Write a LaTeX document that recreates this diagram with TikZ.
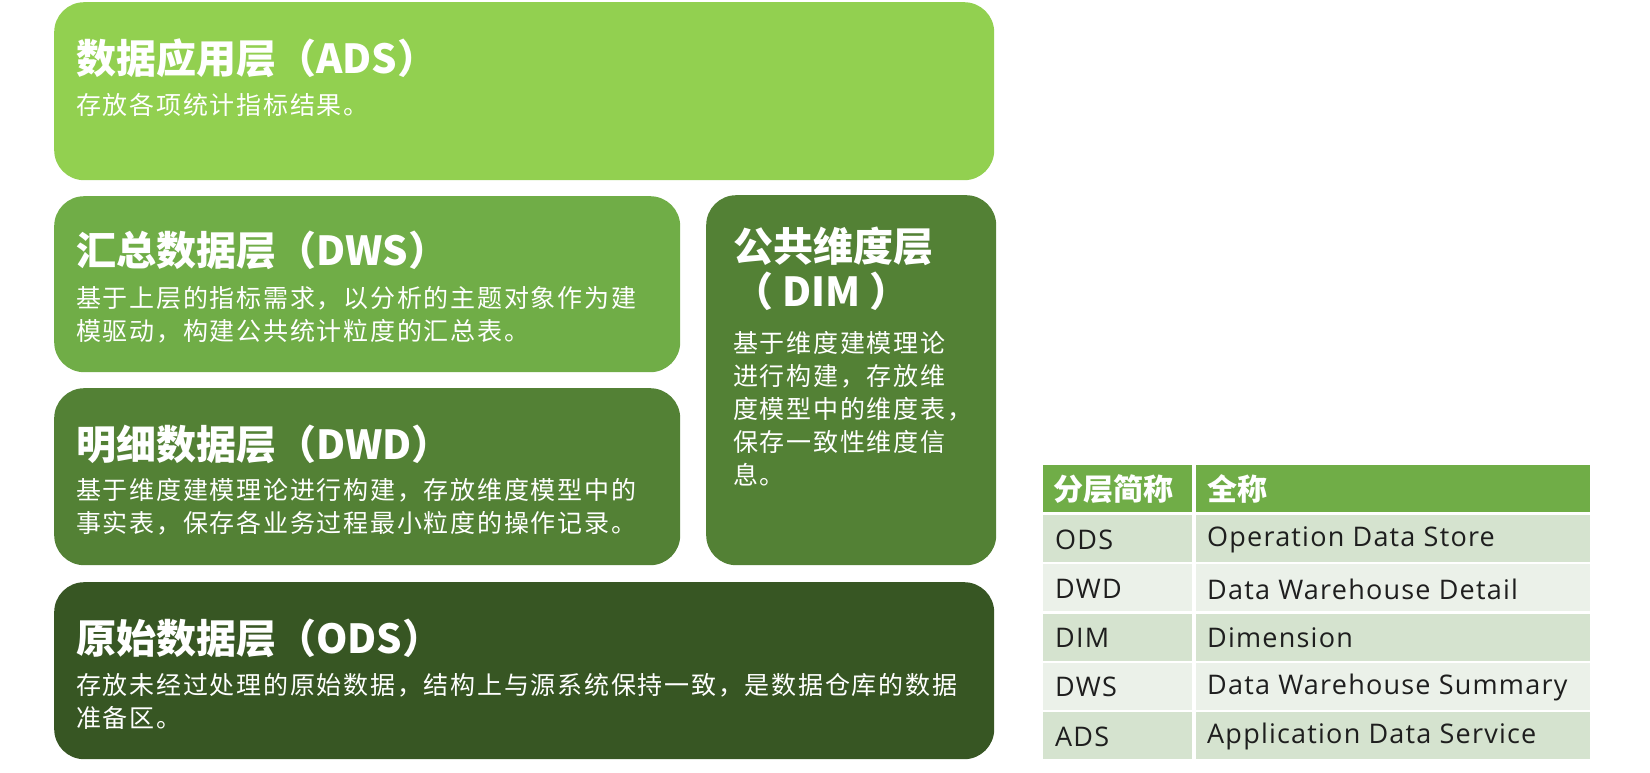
\documentclass[tikz,border=0pt]{standalone}
\usepackage{fontspec}
\setmainfont{Noto Sans CJK SC}
\newfontfamily\latinfont[LetterSpace=4.5]{Open Sans}
\usetikzlibrary{positioning}
\definecolor{cADS}{HTML}{92D050}
\definecolor{cDWS}{HTML}{70AD47}
\definecolor{cDWD}{HTML}{538135}
\definecolor{cDIM}{HTML}{538135}
\definecolor{cODS}{HTML}{375623}
\definecolor{cHead}{HTML}{70AD47}
\definecolor{cRowA}{HTML}{D5E3CF}
\definecolor{cRowB}{HTML}{EBF1E9}
\definecolor{cTxt}{HTML}{1E1E1E}
\tikzset{
  layer/.style={anchor=north west, inner sep=0pt, rounded corners=30pt, draw=none},
  ttl/.style={anchor=west, inner sep=0pt, text=white, font=\fontsize{40}{46}\selectfont\bfseries},
  body/.style={anchor=north west, inner sep=0pt, text=white, align=left, font=\fontsize{25}{33}\selectfont\addfontfeatures{LetterSpace=7}},
  cell/.style={anchor=north west, inner sep=0pt, minimum height=47pt},
  ctxt/.style={anchor=west, inner sep=0pt, text=cTxt, font=\fontsize{27}{30}\selectfont\latinfont},
  htxt/.style={anchor=west, inner sep=0pt, text=white, font=\fontsize{30}{34}\selectfont\bfseries},
}
\begin{document}
\begin{tikzpicture}[x=1pt,y=-1pt]
\useasboundingbox (0,0) rectangle (1650,772);
% layers
\node[layer, fill=cADS, minimum width=940pt, minimum height=178pt] (ads) at (54,2) {};
\node[layer, fill=cDWS, minimum width=626pt, minimum height=176pt] (dws) at (54,196) {};
\node[layer, fill=cDWD, minimum width=626pt, minimum height=177pt] (dwd) at (54,388) {};
\node[layer, fill=cDIM, minimum width=290pt, minimum height=370pt] (dim) at (706,195) {};
\node[layer, fill=cODS, minimum width=940pt, minimum height=177pt] (ods) at (54,582) {};
% texts
\node[ttl] (adsT) at (76,58) {数据应用层（ADS）};
\node[body] (adsB) at (76,93) {存放各项统计指标结果。};
\node[ttl] (dwsT) at (76,250) {汇总数据层（DWS）};
\node[body] (dwsB) at (76,286) {基于上层的指标需求，以分析的主题对象作为建\\模驱动，构建公共统计粒度的汇总表。};
\node[ttl] (dwdT) at (76,444) {明细数据层（DWD）};
\node[body] (dwdB) at (76,478) {基于维度建模理论进行构建，存放维度模型中的\\事实表，保存各业务过程最小粒度的操作记录。};
\node[ttl] (odsT) at (76,638) {原始数据层（ODS）};
\node[body] (odsB) at (76,673) {存放未经过处理的原始数据，结构上与源系统保持一致，是数据仓库的数据\\准备区。};
\node[ttl] (dimT1) at (733,246) {公共维度层};
\node[ttl] (dimT2) at (733,291) {（ DIM ）};
\node[body] (dimB) at (733,331) {基于维度建模理论\\进行构建，存放维\\度模型中的维度表，\\保存一致性维度信\\息。};
% table
\node[cell, fill=cHead, minimum width=149pt] (h1) at (1043,465) {};
\node[cell, fill=cHead, minimum width=394pt] (h2) at (1196,465) {};
\node[htxt] at ([xshift=10pt]h1.west) {分层简称};
\node[htxt] at ([xshift=11pt]h2.west) {全称};
\foreach \i/\a/\b/\c in {0/ODS/Operation Data Store/cRowA,1/DWD/Data Warehouse Detail/cRowB,2/DIM/Dimension/cRowA,3/DWS/Data Warehouse Summary/cRowB,4/ADS/Application Data Service/cRowA}{
  \node[cell, fill=\c, minimum width=149pt] (r\i a) at (1043,{515+49.2*\i}) {};
  \node[cell, fill=\c, minimum width=394pt] (r\i b) at (1196,{515+49.2*\i}) {};
  \node[ctxt] at ([xshift=12pt,yshift=-1pt]r\i a.west) {\a};
  \node[ctxt] at ([xshift=11pt,yshift=-1pt]r\i b.west) {\b};
}
\end{tikzpicture}
\end{document}
